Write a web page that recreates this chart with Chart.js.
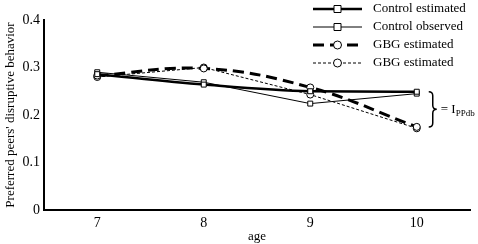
<!DOCTYPE html>
<html><head><meta charset="utf-8">
<script src="https://cdn.jsdelivr.net/npm/chart.js@4/dist/chart.umd.min.js"></script>
<style>html,body{margin:0;padding:0;background:#fff}#w{width:478px;height:244px}</style>
</head><body><div id="w"><canvas id="c" width="478" height="244"></canvas></div>
<script>
const ages = ['7', '8', '9', '10'];
const controlEstimated = [0.286, 0.264, 0.250, 0.249];
const controlObserved = [0.290, 0.269, 0.224, 0.245];
const gbgEstimated = [0.283, 0.298, 0.258, 0.175];
const gbgEstimated2 = [0.280, 0.300, 0.243, 0.172];
const seriesNames = ['Control estimated', 'Control observed', 'GBG estimated', 'GBG estimated'];
const yTicks = [0, 0.1, 0.2, 0.3, 0.4];
const bracketLabel = ['= I', 'PPdb'];

const FONT = "'Liberation Serif', 'Times New Roman', serif";

const legendPlugin = {
  id: 'customLegend',
  afterDraw(chart) {
    const ctx = chart.ctx;
    ctx.save();
    chart.data.datasets.forEach((ds, i) => {
      const y = 9 + i * 18;
      const x0 = 313, x1 = 362, xm = (x0 + x1) / 2;
      ctx.strokeStyle = '#000';
      ctx.lineWidth = ds.borderWidth;
      ctx.setLineDash(ds.borderDash || []);
      ctx.beginPath(); ctx.moveTo(x0, y); ctx.lineTo(x1, y); ctx.stroke();
      ctx.setLineDash([]);
      ctx.lineWidth = 1;
      ctx.fillStyle = '#fff';
      ctx.beginPath();
      if (ds.pointStyle === 'rect') { ctx.rect(xm - 3.5, y - 3.5, 7, 7); }
      else { ctx.arc(xm, y, 4, 0, Math.PI * 2); }
      ctx.fill(); ctx.stroke();
      ctx.fillStyle = '#000';
      ctx.font = '13px ' + FONT;
      ctx.textBaseline = 'middle';
      ctx.textAlign = 'left';
      ctx.fillText(ds.label, 373, y);
    });
    // bracket
    const xs = chart.scales.x, ys = chart.scales.y;
    const bx = xs.getPixelForValue(3) + 12;
    const yTop = ys.getPixelForValue(controlEstimated[3]);
    const yBot = ys.getPixelForValue(gbgEstimated[3]);
    const ym = (yTop + yBot) / 2;
    const r = 4;
    ctx.strokeStyle = '#000'; ctx.lineWidth = 1.5;
    ctx.beginPath();
    ctx.moveTo(bx, yTop);
    ctx.quadraticCurveTo(bx + r, yTop, bx + r, yTop + r);
    ctx.lineTo(bx + r, ym - r);
    ctx.quadraticCurveTo(bx + r, ym, bx + 2 * r, ym);
    ctx.quadraticCurveTo(bx + r, ym, bx + r, ym + r);
    ctx.lineTo(bx + r, yBot - r);
    ctx.quadraticCurveTo(bx + r, yBot, bx, yBot);
    ctx.stroke();
    ctx.fillStyle = '#000';
    ctx.font = '13px ' + FONT;
    ctx.textBaseline = 'middle';
    ctx.textAlign = 'left';
    ctx.fillText(bracketLabel[0], bx + 12, ym);
    const w = ctx.measureText(bracketLabel[0]).width;
    ctx.font = '9px ' + FONT;
    ctx.fillText(bracketLabel[1], bx + 12 + w, ym + 4);
    ctx.restore();
  }
};

new Chart(document.getElementById('c'), {
  type: 'line',
  data: {
    labels: ages,
    datasets: [
      { label: seriesNames[0], data: controlEstimated, borderColor: '#000', borderWidth: 2.5, tension: 0.4, cubicInterpolationMode: 'monotone',
        pointStyle: 'rect', pointRadius: 3.5, pointBackgroundColor: '#fff', pointBorderColor: '#000', pointBorderWidth: 1 },
      { label: seriesNames[1], data: controlObserved, borderColor: '#000', borderWidth: 1, tension: 0,
        pointStyle: 'rect', pointRadius: 3.5, pointBackgroundColor: '#fff', pointBorderColor: '#000', pointBorderWidth: 1 },
      { label: seriesNames[2], data: gbgEstimated, borderColor: '#000', borderWidth: 3, borderDash: [11, 6], tension: 0.4,
        pointStyle: 'circle', pointRadius: 3.5, pointBackgroundColor: '#fff', pointBorderColor: '#000', pointBorderWidth: 1 },
      { label: seriesNames[3], data: gbgEstimated2, borderColor: '#000', borderWidth: 1, borderDash: [3, 2], tension: 0,
        pointStyle: 'circle', pointRadius: 3.5, pointBackgroundColor: '#fff', pointBorderColor: '#000', pointBorderWidth: 1 }
    ]
  },
  options: {
    responsive: false,
    animation: false,
    devicePixelRatio: 1,
    layout: { padding: { left: 0, right: 8, top: 20, bottom: 0 } },
    plugins: { legend: { display: false }, tooltip: { enabled: false } },
    scales: {
      x: {
        type: 'category', offset: true,
        grid: { display: false, drawTicks: false },
        border: { color: '#000', width: 2 },
        ticks: { color: '#000', font: { family: FONT, size: 14 }, padding: 5, maxRotation: 0 },
        title: { display: true, text: 'age', color: '#000', font: { family: FONT, size: 13 }, padding: { top: -2, bottom: 0 } },
        afterFit(s) { s.height = 34; }
      },
      y: {
        min: 0, max: 0.4,
        afterBuildTicks(s) { s.ticks = yTicks.map(v => ({ value: v })); },
        grid: { display: false, drawTicks: false },
        border: { color: '#000', width: 2 },
        ticks: { color: '#000', font: { family: FONT, size: 14 }, padding: 4,
          callback: v => v === 0 ? '0' : v.toFixed(1) },
        title: { display: true, text: "Preferred peers' disruptive behavior", color: '#000', font: { family: FONT, size: 13 }, padding: { top: 3, bottom: 0 } },
        afterFit(s) { s.width = 44; }
      }
    }
  },
  plugins: [legendPlugin]
});
</script>
</body></html>
